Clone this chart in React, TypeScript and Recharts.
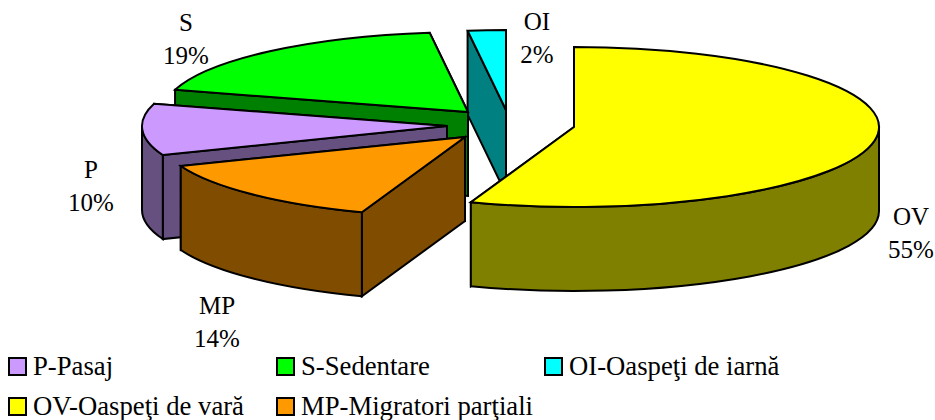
import { Legend, Pie, PieChart } from "recharts";

// reversed reading order so the front slices are painted last
const sliceNames = ["OI", "S", "P", "MP", "OV"];
const sliceValues = [2.01, 18.5, 10.4, 13.6, 55.49];

const legendNames = ["P", "S", "OI", "OV", "MP"];
const legendLabels: Record<string, string> = {
  P: "P-Pasaj",
  S: "S-Sedentare",
  OI: "OI-Oaspeţi de iarnă",
  OV: "OV-Oaspeţi de vară",
  MP: "MP-Migratori parţiali",
};

const topColors: Record<string, string> = {
  OI: "#00ffff",
  S: "#00ff00",
  P: "#cc99ff",
  MP: "#ff9900",
  OV: "#ffff00",
};
const sideColors: Record<string, string> = {
  OI: "#008080",
  S: "#008000",
  P: "#665080",
  MP: "#804d00",
  OV: "#808000",
};

// how far each slice is pulled out of the pie centre
const explode: Record<string, [number, number]> = {
  OI: [-68, -17],
  S: [-106, -15],
  P: [-127, -1],
  MP: [-109, 10],
  OV: [0, 0],
};
const labelSpots: Record<string, [number, number]> = {
  OI: [537, 30],
  S: [186, 31],
  P: [91, 178],
  MP: [217, 314],
  OV: [911, 225],
};

const SQUASH = 80 / 305;
const DEPTH = 84;
const FONT = "'Liberation Serif', serif";

const rows = sliceNames.map((name, i) => ({
  name,
  value: sliceValues[i],
  fill: topColors[name],
}));

function Slice(props: any) {
  const { cx, cy, outerRadius, startAngle, endAngle, name } = props;
  const [dx, dy] = explode[name];
  const x0 = cx + dx;
  const y0 = cy + dy;
  const rx = outerRadius;
  const ry = outerRadius * SQUASH;
  const pt = (a: number, down = 0) => {
    const r = (a * Math.PI) / 180;
    return `${x0 + rx * Math.cos(r)} ${y0 - ry * Math.sin(r) + down}`;
  };
  const large = endAngle - startAngle > 180 ? 1 : 0;
  const top = `M${x0} ${y0} L${pt(startAngle)} A${rx} ${ry} 0 ${large} 0 ${pt(endAngle)} Z`;
  const wall = (a: number) =>
    `M${x0} ${y0} L${pt(a)} L${pt(a, DEPTH)} L${x0} ${y0 + DEPTH} Z`;
  // only the front half of the rim can be seen
  const lo = Math.max(startAngle, 180);
  const hi = Math.min(endAngle, 360);
  const side = sideColors[name];
  const line = { stroke: "#000", strokeWidth: 2 };
  return (
    <g>
      <path d={wall(startAngle)} fill={side} {...line} />
      <path d={wall(endAngle)} fill={side} {...line} />
      {hi > lo && (
        <path
          d={`M${pt(lo)} A${rx} ${ry} 0 0 0 ${pt(hi)} L${pt(hi, DEPTH)} A${rx} ${ry} 0 0 1 ${pt(lo, DEPTH)} Z`}
          fill={side}
          {...line}
        />
      )}
      <path d={top} fill={topColors[name]} {...line} />
    </g>
  );
}

function SliceLabel(props: any) {
  const { name, value } = props;
  const [x, y] = labelSpots[name];
  return (
    <text x={x} y={y} textAnchor="middle" fontFamily={FONT} fontSize={25} fill="#000">
      <tspan x={x}>{name}</tspan>
      <tspan x={x} dy={33}>{`${Math.round(value)}%`}</tspan>
    </text>
  );
}

function LegendBlock() {
  return (
    <div
      style={{
        display: "grid",
        gridTemplateColumns: "268px 268px auto",
        gridAutoRows: "40px",
        marginLeft: 8,
        fontFamily: FONT,
        fontSize: 26.7,
        color: "#000",
      }}
    >
      {legendNames.map((name) => (
        <div key={name} style={{ display: "flex", alignItems: "center", whiteSpace: "nowrap" }}>
          <span
            style={{
              width: 15,
              height: 15,
              border: "2px solid #000",
              background: topColors[name],
              marginRight: 6,
              flex: "none",
            }}
          />
          {legendLabels[name]}
        </div>
      ))}
    </div>
  );
}

export default function App() {
  return (
    <div style={{ position: "absolute", left: 0, top: 0 }}>
      <PieChart width={935} height={420} margin={{ top: 0, right: 0, bottom: 0, left: 0 }}>
        <Pie
          data={rows}
          dataKey="value"
          nameKey="name"
          cx={574}
          cy={127}
          innerRadius={0}
          outerRadius={305}
          startAngle={90}
          endAngle={450}
          stroke="none"
          shape={Slice}
          label={SliceLabel}
          labelLine={false}
          isAnimationActive={false}
        />
        <Legend
          content={<LegendBlock />}
          wrapperStyle={{ left: 0, top: 346, width: 935 }}
        />
      </PieChart>
    </div>
  );
}
